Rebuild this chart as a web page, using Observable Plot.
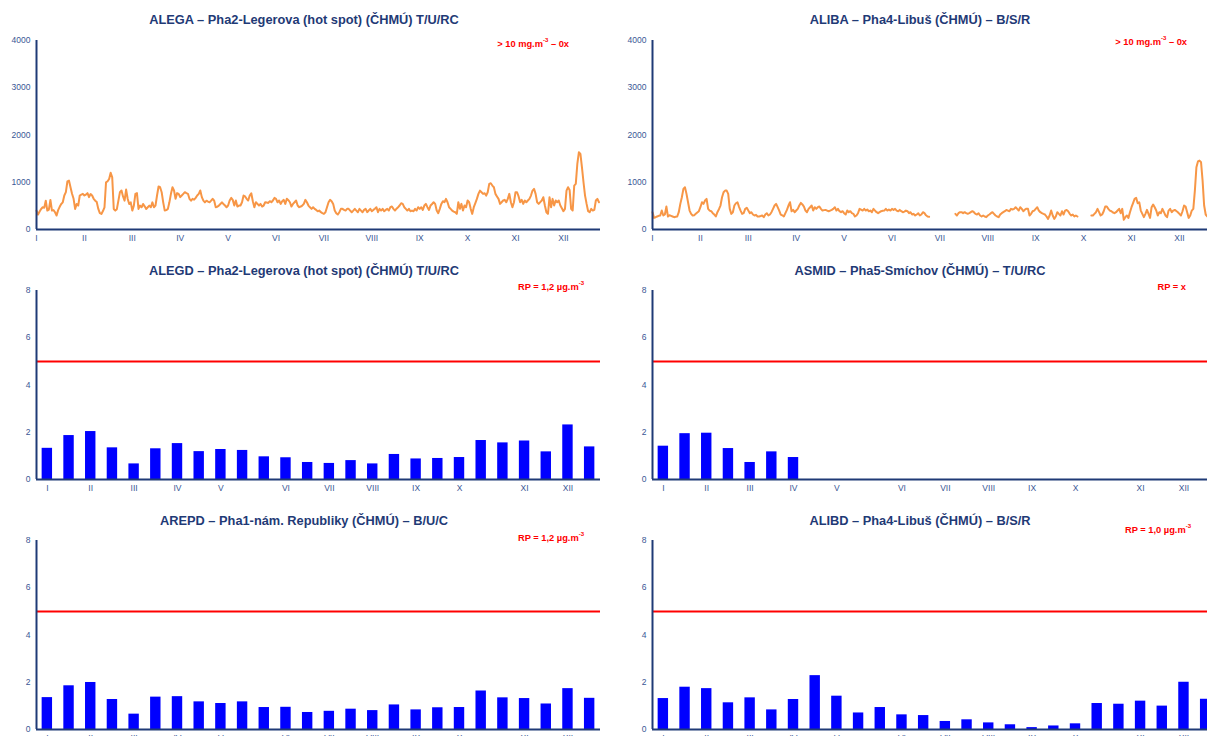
<!DOCTYPE html>
<html><head><meta charset="utf-8">
<script src="https://cdn.jsdelivr.net/npm/d3@7"></script>
<script src="https://cdn.jsdelivr.net/npm/@observablehq/plot@0.6"></script>
<style>
html,body{margin:0;padding:0;width:1207px;height:736px;overflow:hidden;background:#fff;font-family:"Liberation Sans",Arial,sans-serif;}
#root{position:relative;width:1207px;height:736px;overflow:hidden;}
.panel{position:absolute;width:600px;height:250px;}
.panel svg{overflow:visible;}
.title{position:absolute;font-weight:bold;font-size:12.8px;color:#1f3a76;white-space:nowrap;transform:translate(-50%,-50%);}
.note{position:absolute;font-weight:bold;font-size:9.3px;color:#ff0000;white-space:nowrap;transform:translate(-100%,-50%);}
.note sup{font-size:6px;}
</style></head><body><div id="root"></div>
<script>
// ---- tick labels ----
const months = ["I","II","III","IV","V","VI","VII","VIII","IX","X","XI","XII"];
const lineTickDays = [0,31,62,93,124,155,186,217,248,279,310,341];
const barTickIdx = [0,2,4,6,8,11,13,15,17,19,22,24];
const lineYTicks = [0,1000,2000,3000,4000];
const barYTicks = [0,2,4,6,8];
const limitValue = 5;

// ---- titles / notes ----
const titles = [
  "ALEGA – Pha2-Legerova (hot spot) (ČHMÚ) T/U/RC",
  "ALIBA – Pha4-Libuš (ČHMÚ) – B/S/R",
  "ALEGD – Pha2-Legerova (hot spot) (ČHMÚ) T/U/RC",
  "ASMID – Pha5-Smíchov (ČHMÚ) – T/U/RC",
  "AREPD – Pha1-nám. Republiky (ČHMÚ) – B/U/C",
  "ALIBD – Pha4-Libuš (ČHMÚ) – B/S/R"
];
const notes = [
  "&gt; 10 mg.m<sup>-3</sup> – 0x",
  "&gt; 10 mg.m<sup>-3</sup> – 0x",
  "RP = 1,2 µg.m<sup>-3</sup>",
  "RP = x",
  "RP = 1,2 µg.m<sup>-3</sup>",
  "RP = 1,0 µg.m<sup>-3</sup>"
];

// ---- daily series (365 days) ----
const alegaDaily = [
400,315,380,435,470,460,610,400,420,625,400,410,365,295,410,480,540,575,720,790,
1020,1035,895,755,650,435,540,505,720,740,755,720,740,770,685,750,720,650,610,580,
435,345,330,390,470,1000,1020,1070,1200,1105,435,400,430,610,790,825,700,610,845,650,
540,575,400,505,755,770,435,505,470,540,490,435,470,505,470,575,470,505,720,910,
895,790,575,400,410,435,575,755,895,825,650,770,755,685,720,755,790,770,755,650,
610,650,630,670,720,755,825,685,610,575,610,590,575,610,650,610,470,480,505,540,
575,540,
507,472,507,613,669,627,507,613,486,507,507,577,718,700,650,613,718,768,599,472,
577,542,507,542,486,507,577,570,563,599,577,613,669,650,577,613,542,599,627,542,
650,620,577,486,542,577,613,507,472,486,507,542,627,577,507,470,437,472,437,415,
387,401,366,345,331,366,472,577,627,600,542,401,345,317,366,437,437,415,401,437,
437,401,366,400,437,401,366,437,401,366,415,437,366,401,437,387,415,440,472,366,
437,401,437,387,415,437,401,472,486,437,401,440,472,507,556,542,472,437,401,437,
387,
401,387,437,401,472,437,472,415,507,542,472,415,507,540,577,542,401,345,437,542,
599,577,648,577,472,437,401,380,366,331,577,437,542,401,507,472,613,577,437,331,
472,560,648,754,824,789,754,768,718,789,965,979,930,894,754,700,648,542,577,613,
627,577,648,754,577,472,577,789,789,700,577,627,542,613,577,613,648,718,824,859,
754,577,542,580,613,683,507,366,331,683,472,648,507,613,577,613,507,450,387,437,
824,894,838,437,401,930,965,1387,1634,1599,1317,1000,718,542,387,366,437,401,415,613,
648,577
];
const alibaDaily = [
366,246,260,275,289,296,401,296,317,486,275,303,289,275,261,270,275,366,542,683,
859,894,754,577,401,331,296,303,331,360,387,472,577,542,613,648,437,401,387,345,
317,275,366,430,507,683,789,824,824,754,437,331,366,507,556,577,480,401,331,345,
437,458,401,345,366,317,296,310,275,275,285,296,261,317,345,296,317,366,437,507,
542,472,401,317,300,275,345,415,507,577,387,415,366,401,437,507,563,530,486,401,
366,437,472,507,401,472,437,472,486,437,401,410,415,401,387,401,415,437,472,401,
437,387,
366,387,345,317,401,366,387,345,331,275,296,345,437,420,401,437,401,423,387,401,
366,437,401,366,345,366,387,395,401,437,401,423,401,437,415,437,401,387,415,387,
366,380,401,387,345,366,317,331,296,317,345,296,317,366,345,300,275,270,
null,null,null,null,null,null,null,null,null,null,null,null,null,null,null,null,
331,296,345,366,366,345,366,345,331,345,366,387,366,331,317,345,296,275,296,275,
261,296,317,345,366,331,296,275,261,317,345,366,387,415,401,387,437,423,437,472,
437,401,472,437,387,420,440,
437,296,331,387,401,437,472,401,366,345,330,317,275,225,296,401,296,225,275,366,
330,296,387,317,401,415,387,331,296,317,275,296,275,
null,null,null,null,null,null,null,null,
296,296,331,366,437,366,296,317,387,486,486,437,401,387,360,345,366,401,437,345,
437,204,261,296,246,366,472,560,648,669,556,577,401,331,261,331,415,331,246,472,
528,470,401,296,366,345,437,366,296,261,401,437,366,401,415,390,366,331,296,387,
507,486,366,246,296,401,437,824,1317,1440,1458,1423,1035,507,317,275,
280,300,310,290,300
];

// ---- two-week averages (26 periods) ----
const alegdValues = [1.32,1.86,2.03,1.34,0.66,1.30,1.52,1.18,1.27,1.23,0.96,0.92,0.72,0.68,0.80,0.66,1.06,0.87,0.89,0.93,1.65,1.55,1.63,1.17,2.31,1.38];
const asmidValues = [1.41,1.94,1.96,1.31,0.72,1.17,0.93,null,null,null,null,null,null,null,null,null,null,null,null,null,null,null,null,null,null,null];
const arepdValues = [1.35,1.85,1.99,1.27,0.65,1.37,1.39,1.17,1.10,1.17,0.93,0.94,0.72,0.77,0.86,0.80,1.04,0.83,0.92,0.93,1.63,1.34,1.31,1.08,1.73,1.32];
const alibdValues = [1.31,1.79,1.73,1.13,1.34,0.83,1.27,2.28,1.41,0.70,0.93,0.62,0.59,0.34,0.41,0.28,0.20,0.08,0.15,0.24,1.10,1.07,1.20,0.99,2.00,1.28];

// ---- styling ----
const AXIS = "#1f3a76";
const LABEL = "#3a5795";
const baseStyle = {fontFamily:"Liberation Sans, Arial, sans-serif", fontSize:"8.5px", color:LABEL, background:"transparent", overflow:"visible"};
const frame = {width:600, height:250, marginLeft:36, marginRight:0, marginTop:40, marginBottom:21};

function linePlot(values){
  const data = values.map((v,i)=>({day:i, v}));
  return Plot.plot({
    ...frame, style: baseStyle,
    x:{domain:[0,365], ticks:lineTickDays, tickFormat:d=>months[lineTickDays.indexOf(d)], tickSize:0, tickPadding:5, label:null},
    y:{domain:[0,4000], ticks:lineYTicks, tickFormat:d=>String(d), tickSize:0, tickPadding:6, label:null},
    marks:[
      Plot.line(data, {x:"day", y:"v", stroke:"#f79646", strokeWidth:2}),
      Plot.ruleX([0], {stroke:AXIS, strokeWidth:2}),
      Plot.ruleY([0], {stroke:AXIS, strokeWidth:2.2})
    ]
  });
}

function barPlot(values){
  const data = values.map((v,i)=>({i, v})).filter(d=>d.v!=null);
  const tickPos = barTickIdx.map(i=>i+0.5);
  return Plot.plot({
    ...frame, style: baseStyle,
    x:{domain:[0,26], ticks:tickPos, tickFormat:d=>months[tickPos.indexOf(d)], tickSize:0, tickPadding:5, label:null},
    y:{domain:[0,8], ticks:barYTicks, tickFormat:d=>String(d), tickSize:0, tickPadding:6, label:null},
    marks:[
      Plot.rect(data, {x1:d=>d.i+0.26, x2:d=>d.i+0.74, y1:0, y2:"v", fill:"#0000ff"}),
      Plot.ruleY([limitValue], {stroke:"#ff0000", strokeWidth:2}),
      Plot.ruleX([0], {stroke:AXIS, strokeWidth:2}),
      Plot.ruleY([0], {stroke:AXIS, strokeWidth:2.2})
    ]
  });
}

const panels = [
  {kind:"line", values:alegaDaily, left:0,   top:0,   tx:304, ty:19,  nx:569,  ny:43},
  {kind:"line", values:alibaDaily, left:616, top:0,   tx:920, ty:19,  nx:1187, ny:41},
  {kind:"bar",  values:alegdValues, left:0,   top:250, tx:304, ty:270, nx:584,  ny:286},
  {kind:"bar",  values:asmidValues, left:616, top:250, tx:920, ty:270, nx:1186, ny:287},
  {kind:"bar",  values:arepdValues, left:0,   top:500, tx:304, ty:520, nx:584,  ny:537},
  {kind:"bar",  values:alibdValues, left:616, top:500, tx:920, ty:520, nx:1191, ny:529}
];

const root = document.getElementById("root");
panels.forEach((p,k)=>{
  const div = document.createElement("div");
  div.className = "panel";
  div.style.left = p.left+"px"; div.style.top = p.top+"px";
  div.appendChild(p.kind==="line" ? linePlot(p.values) : barPlot(p.values));
  root.appendChild(div);
  const t = document.createElement("div");
  t.className = "title"; t.textContent = titles[k];
  t.style.left = p.tx+"px"; t.style.top = p.ty+"px";
  root.appendChild(t);
  const n = document.createElement("div");
  n.className = "note"; n.innerHTML = notes[k];
  n.style.left = p.nx+"px"; n.style.top = p.ny+"px";
  root.appendChild(n);
});
</script></body></html>
